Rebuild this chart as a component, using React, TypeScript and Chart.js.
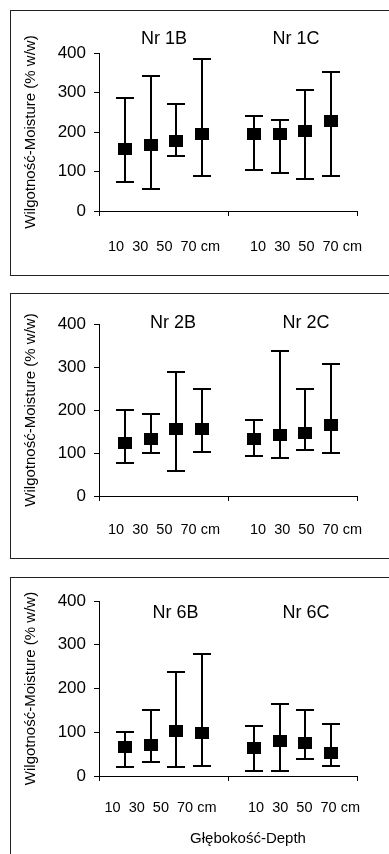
import React, { useEffect, useRef } from 'react';
import { Chart, registerables } from 'chart.js';

Chart.register(...registerables);

// ---------- data ----------
const depthText = '10  30  50  70 cm';
const yAxisTitle = 'Wilgotność-Moisture (% w/w)';
const xAxisTitle = 'Głębokość-Depth';

const groups1 = ['Nr 1B', 'Nr 1C'];
const mean1 = [158, 167, 178, 194, 194, 194, 202, 228];
const low1 = [74, 55, 140, 89, 105, 95, 80, 89];
const high1 = [285, 341, 270, 386, 241, 231, 306, 352];

const groups2 = ['Nr 2B', 'Nr 2C'];
const mean2 = [124, 133, 156, 156, 133, 142, 147, 165];
const low2 = [76, 99, 57, 102, 94, 89, 107, 99];
const high2 = [200, 191, 288, 250, 177, 338, 250, 306];

const groups3 = ['Nr 6B', 'Nr 6C'];
const mean3 = [66, 72, 103, 98, 63, 81, 76, 53];
const low3 = [20, 33, 20, 24, 11, 11, 38, 24];
const high3 = [101, 150, 237, 278, 115, 164, 150, 119];

// ---------- layout / styles ----------
const FONT = '"Liberation Sans", Arial, sans-serif';
const CANVAS_LEFT = 11;
const CANVAS_W = 378;
const AREA_LEFT = 99;
const AREA_RIGHT = 357;

type Layout = {
  boxTop: number;
  boxHeight: number;
  canvasHeight: number;
  areaTop: number;
  areaBottom: number;
  titleDy: number;
  titleDx: number[];
  labelDy: number;
  labelDx: number[];
  xTitle: boolean;
};

const layout1: Layout = {
  boxTop: 10, boxHeight: 266, canvasHeight: 264, areaTop: 53, areaBottom: 211,
  titleDy: -14, titleDx: [0.5, 3.5], labelDy: 36, labelDx: [0.5, 13.5], xTitle: false,
};
const layout2: Layout = {
  boxTop: 293, boxHeight: 266, canvasHeight: 264, areaTop: 324, areaBottom: 496,
  titleDy: -1, titleDx: [9.5, 13.5], labelDy: 34, labelDx: [0.5, 13.5], xTitle: false,
};
const layout3: Layout = {
  boxTop: 577, boxHeight: 320, canvasHeight: 276, areaTop: 601, areaBottom: 776,
  titleDy: 12, titleDx: [12, 13.5], labelDy: 32, labelDx: [-3, 11.5], xTitle: true,
};

function makeMarker() {
  const c = document.createElement('canvas');
  c.width = 14;
  c.height = 12;
  const g = c.getContext('2d')!;
  g.fillStyle = '#000';
  g.fillRect(0, 0, 14, 12);
  return c;
}

function Panel({ groups, mean, low, high, lay }: { groups: string[]; mean: number[]; low: number[]; high: number[]; lay: Layout }) {
  const ref = useRef<HTMLCanvasElement | null>(null);
  useEffect(() => {
    if (!ref.current) return;
    const canvasTop = lay.boxTop + 1;
    const points = mean.map((m, i) => ({
      x: Math.floor(i / 4) * 5 + (i % 4) + 1,
      y: m,
      low: low[i],
      high: high[i],
    }));

    const errorBars = {
      id: 'errorBars',
      beforeDatasetsDraw(chart: any) {
        const { ctx, scales } = chart;
        const xs = scales.x, ys = scales.y;
        ctx.save();
        ctx.strokeStyle = '#000';
        ctx.lineWidth = 2;
        chart.data.datasets[0].data.forEach((p: any) => {
          const px = Math.round(xs.getPixelForValue(p.x));
          const yl = Math.round(ys.getPixelForValue(p.low));
          const yh = Math.round(ys.getPixelForValue(p.high));
          ctx.beginPath();
          ctx.moveTo(px, yl);
          ctx.lineTo(px, yh);
          ctx.moveTo(px - 9, yl);
          ctx.lineTo(px + 9, yl);
          ctx.moveTo(px - 9, yh);
          ctx.lineTo(px + 9, yh);
          ctx.stroke();
        });
        ctx.restore();
      },
    };

    const texts = {
      id: 'panelTexts',
      afterDraw(chart: any) {
        const { ctx, scales, chartArea } = chart;
        const xs = scales.x;
        ctx.save();
        ctx.fillStyle = '#000';
        ctx.textAlign = 'center';
        ctx.textBaseline = 'middle';
        [2.5, 7.5].forEach((c, gi) => {
          const cx = xs.getPixelForValue(c);
          ctx.font = `18px ${FONT}`;
          ctx.fillText(groups[gi], cx + lay.titleDx[gi], chartArea.top + lay.titleDy);
          ctx.font = `14.5px ${FONT}`;
          ctx.fillText(depthText, cx + lay.labelDx[gi], chartArea.bottom + lay.labelDy);
        });
        if (lay.xTitle) {
          ctx.font = `15px ${FONT}`;
          ctx.fillText(xAxisTitle, (chartArea.left + chartArea.right) / 2 + 20, chartArea.bottom + 63);
        }
        ctx.restore();
      },
    };

    const chart = new Chart(ref.current, {
      type: 'scatter',
      data: {
        datasets: [
          {
            data: points as any,
            pointStyle: makeMarker() as any,
            pointRadius: 7,
            showLine: false,
          },
        ],
      },
      options: {
        animation: false,
        responsive: false,
        layout: {
          padding: {
            left: 0,
            top: lay.areaTop - canvasTop,
            right: CANVAS_W - (AREA_RIGHT - CANVAS_LEFT),
            bottom: 0,
          },
        },
        plugins: { legend: { display: false }, tooltip: { enabled: false } },
        scales: {
          x: {
            type: 'linear',
            min: 0,
            max: 10,
            ticks: { stepSize: 5, display: false },
            grid: { drawOnChartArea: false, drawTicks: true, tickLength: 5, color: '#000', lineWidth: 1 },
            border: { color: '#000', width: 1 },
            afterFit: (s: any) => {
              s.height = lay.canvasHeight - (lay.areaBottom - canvasTop);
            },
          },
          y: {
            type: 'linear',
            min: 0,
            max: 400,
            ticks: { stepSize: 100, padding: 8, color: '#000', font: { family: FONT, size: 17 } },
            grid: { drawOnChartArea: false, drawTicks: true, tickLength: 5, color: '#000', lineWidth: 1 },
            border: { color: '#000', width: 1 },
            title: {
              display: true,
              text: yAxisTitle,
              color: '#000',
              font: { family: FONT, size: 15 },
              padding: { top: 11, bottom: 0 },
            },
            afterFit: (s: any) => {
              s.width = AREA_LEFT - CANVAS_LEFT;
            },
          },
        },
      } as any,
      plugins: [errorBars, texts],
    });
    return () => chart.destroy();
  }, []);

  return (
    <>
      <div
        style={{
          position: 'absolute',
          left: 10,
          top: lay.boxTop,
          width: 400,
          height: lay.boxHeight,
          border: '1px solid #222',
          boxSizing: 'border-box',
        }}
      />
      <canvas
        ref={ref}
        width={CANVAS_W}
        height={lay.canvasHeight}
        style={{
          position: 'absolute',
          left: CANVAS_LEFT,
          top: lay.boxTop + 1,
          width: CANVAS_W,
          height: lay.canvasHeight,
        }}
      />
    </>
  );
}

export default function App() {
  return (
    <div
      style={{
        position: 'absolute',
        left: 0,
        top: 0,
        width: 389,
        height: 854,
        overflow: 'hidden',
        background: '#fff',
      }}
    >
      <Panel groups={groups1} mean={mean1} low={low1} high={high1} lay={layout1} />
      <Panel groups={groups2} mean={mean2} low={low2} high={high2} lay={layout2} />
      <Panel groups={groups3} mean={mean3} low={low3} high={high3} lay={layout3} />
    </div>
  );
}
